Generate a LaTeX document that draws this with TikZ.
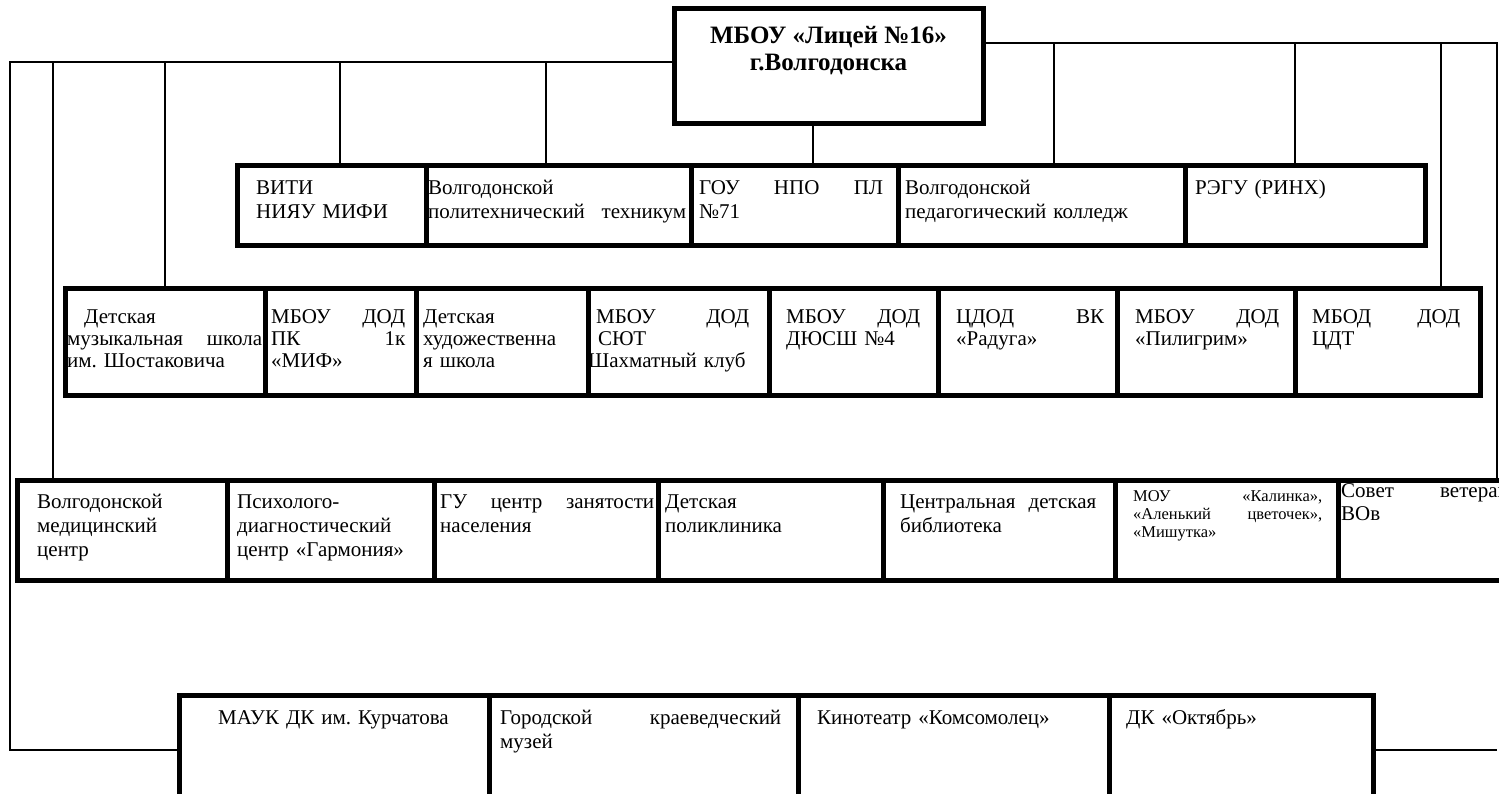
\documentclass[tikz,border=0pt]{standalone}
\usepackage{fontspec}
\setmainfont{Liberation Serif}
\frenchspacing
\usetikzlibrary{calc}

\tikzset{
  unit/.style={draw, line width=5pt, rectangle, inner sep=0pt, outer sep=0pt, anchor=north west},
  utext/.style={anchor=north west, inner sep=0pt, align=left,
    font=\fontsize{21}{24}\selectfont, execute at begin node=\strut},
  utextb/.style={utext, font=\fontsize{21}{22}\selectfont},
  link/.style={line width=2pt}
}

\begin{document}
\begin{tikzpicture}[x=1pt,y=-1pt]
      \useasboundingbox (0,0) rectangle (1499,793);
      \fill[white] (0,0) rectangle (1499,793);
      \clip (0,0) rectangle (1499,793);

      \node[unit, minimum width=309, minimum height=115] (top) at (674,8) {};
      \node[anchor=north, inner sep=0pt, align=center, font=\fontsize{25}{27}\selectfont\bfseries,
        execute at begin node=\strut] (top-t) at ([yshift=-18]top.north) {МБОУ «Лицей №16»\\г.Волгодонска};

      \node[unit, minimum width=189, minimum height=80] (viti) at (237,165) {};
      \node[unit, minimum width=265, minimum height=80] (vpt) at (426,165) {};
      \node[unit, minimum width=207, minimum height=80] (gou) at (691,165) {};
      \node[unit, minimum width=287, minimum height=80] (pedk) at (898,165) {};
      \node[unit, minimum width=240, minimum height=80] (regu) at (1185,165) {};
      \node[utext, text width=160] (viti-t) at ([xshift=19,yshift=-12]viti.north west) {ВИТИ\\НИЯУ МИФИ};
      \node[utext, text width=258] (vpt-t) at ([xshift=2,yshift=-12]vpt.north west) {Волгодонской\\политехнический\hfill техникум};
      \node[utext, text width=184] (gou-t) at ([xshift=8,yshift=-12]gou.north west) {ГОУ\hfill НПО\hfill ПЛ\\№71};
      \node[utext, text width=270] (pedk-t) at ([xshift=7,yshift=-12]pedk.north west) {Волгодонской\\педагогический колледж};
      \node[utext, text width=220] (regu-t) at ([xshift=10,yshift=-12]regu.north west) {РЭГУ (РИНХ)};

      \node[unit, minimum width=200, minimum height=107] (dms) at (65,288) {};
      \node[unit, minimum width=151, minimum height=107] (mif) at (265,288) {};
      \node[unit, minimum width=172, minimum height=107] (dhs) at (416,288) {};
      \node[unit, minimum width=181, minimum height=107] (sut) at (588,288) {};
      \node[unit, minimum width=169, minimum height=107] (dussh) at (769,288) {};
      \node[unit, minimum width=179, minimum height=107] (rad) at (938,288) {};
      \node[unit, minimum width=178, minimum height=107] (pil) at (1117,288) {};
      \node[unit, minimum width=185, minimum height=107] (cdt) at (1295,288) {};
      \node[utextb, text width=195] (dms-t) at ([xshift=2,yshift=-20]dms.north west) {\hspace*{17pt}Детская\\музыкальная\hfill школа\\им. Шостаковича};
      \node[utextb, text width=134] (mif-t) at ([xshift=6,yshift=-20]mif.north west) {МБОУ\hfill ДОД\\ПК\hfill 1к\\«МИФ»};
      \node[utextb, text width=160] (dhs-t) at ([xshift=7,yshift=-20]dhs.north west) {Детская\\художественна\\я школа};
      \node[utextb, text width=161] (sut-t) at ([xshift=0,yshift=-20]sut.north west) {\hspace*{8pt}МБОУ\hfill ДОД\\\hspace*{10pt}СЮТ\\Шахматный клуб};
      \node[utextb, text width=134] (dussh-t) at ([xshift=17,yshift=-20]dussh.north west) {МБОУ\hfill ДОД\\ДЮСШ №4};
      \node[utextb, text width=148] (rad-t) at ([xshift=18,yshift=-20]rad.north west) {ЦДОД\hfill ВК\\«Радуга»};
      \node[utextb, text width=144] (pil-t) at ([xshift=18,yshift=-20]pil.north west) {МБОУ\hfill ДОД\\«Пилигрим»};
      \node[utextb, text width=148] (cdt-t) at ([xshift=17,yshift=-20]cdt.north west) {МБОД\hfill ДОД\\ЦДТ};

      \node[unit, minimum width=210, minimum height=100] (med) at (17,480) {};
      \node[unit, minimum width=207, minimum height=100] (psy) at (227,480) {};
      \node[unit, minimum width=224, minimum height=100] (gu) at (434,480) {};
      \node[unit, minimum width=225, minimum height=100] (dpol) at (658,480) {};
      \node[unit, minimum width=232, minimum height=100] (cdb) at (883,480) {};
      \node[unit, minimum width=223, minimum height=100] (mou) at (1115,480) {};
      \node[unit, minimum width=262, minimum height=100] (sov) at (1338,480) {};
      \node[utext, text width=185] (med-t) at ([xshift=20,yshift=-11]med.north west) {Волгодонской\\медицинский\\центр};
      \node[utext, text width=192] (psy-t) at ([xshift=10,yshift=-11]psy.north west) {Психолого-\\диагностический\\центр «Гармония»};
      \node[utext, text width=214] (gu-t) at ([xshift=6,yshift=-11]gu.north west) {ГУ\hfill центр\hfill занятости\\населения};
      \node[utext, text width=200] (dpol-t) at ([xshift=7,yshift=-11]dpol.north west) {Детская\\поликлиника};
      \node[utext, text width=196] (cdb-t) at ([xshift=17,yshift=-11]cdb.north west) {Центральная\hfill детская\\библиотека};
      \node[utext, text width=189, font=\fontsize{16.5}{18}\selectfont] (mou-t) at ([xshift=18,yshift=-9]mou.north west) {МОУ\hfill «Калинка»,\\«Аленький\hfill цветочек»,\\«Мишутка»};
      \node[utext, text width=188, font=\fontsize{21}{23}\selectfont] (sov-t) at ([xshift=3,yshift=-1]sov.north west) {Совет\hfill ветеранов\\ВОв};

      \node[unit, minimum width=310, minimum height=110] (mauk) at (179,695) {};
      \node[unit, minimum width=309, minimum height=110] (muz) at (489,695) {};
      \node[unit, minimum width=311, minimum height=110] (kino) at (798,695) {};
      \node[unit, minimum width=264, minimum height=110] (okt) at (1109,695) {};
      \node[utext, text width=260] (mauk-t) at ([xshift=39,yshift=-12]mauk.north west) {МАУК ДК им. Курчатова};
      \node[utext, text width=281] (muz-t) at ([xshift=11,yshift=-12]muz.north west) {Городской\hfill краеведческий\\музей};
      \node[utext, text width=280] (kino-t) at ([xshift=19,yshift=-12]kino.north west) {Кинотеатр «Комсомолец»};
      \node[utext, text width=240] (okt-t) at ([xshift=17,yshift=-12]okt.north west) {ДК «Октябрь»};

      \coordinate (lbus) at (10,62);
      \coordinate (rbus) at (1497,43);
      \draw[link] (top.west |- lbus) -- (lbus) |- (mauk.west);
      \draw[link] (top.east |- rbus) -- (rbus) -- (rbus |- sov.north);
      \draw[link] (lbus) -| ($(med.north west)+(36,0)$);
      \draw[link] (lbus) -| (dms.north);
      \draw[link] (lbus) -| ($(viti.north)+(8,0)$);
      \draw[link] (lbus) -| ($(vpt.north)+(-13,0)$);
      \draw[link] ($(gou.north)+(18,0)$) |- (top.south);
      \draw[link] (rbus) -| ($(pedk.north)+(12,0)$);
      \draw[link] (rbus) -| ($(regu.north)+(-10,0)$);
      \draw[link] (rbus) -| ($(cdt.north)+(53,0)$);
      \draw[link] (okt.east) -- (okt.east -| rbus);
\end{tikzpicture}
\end{document}
